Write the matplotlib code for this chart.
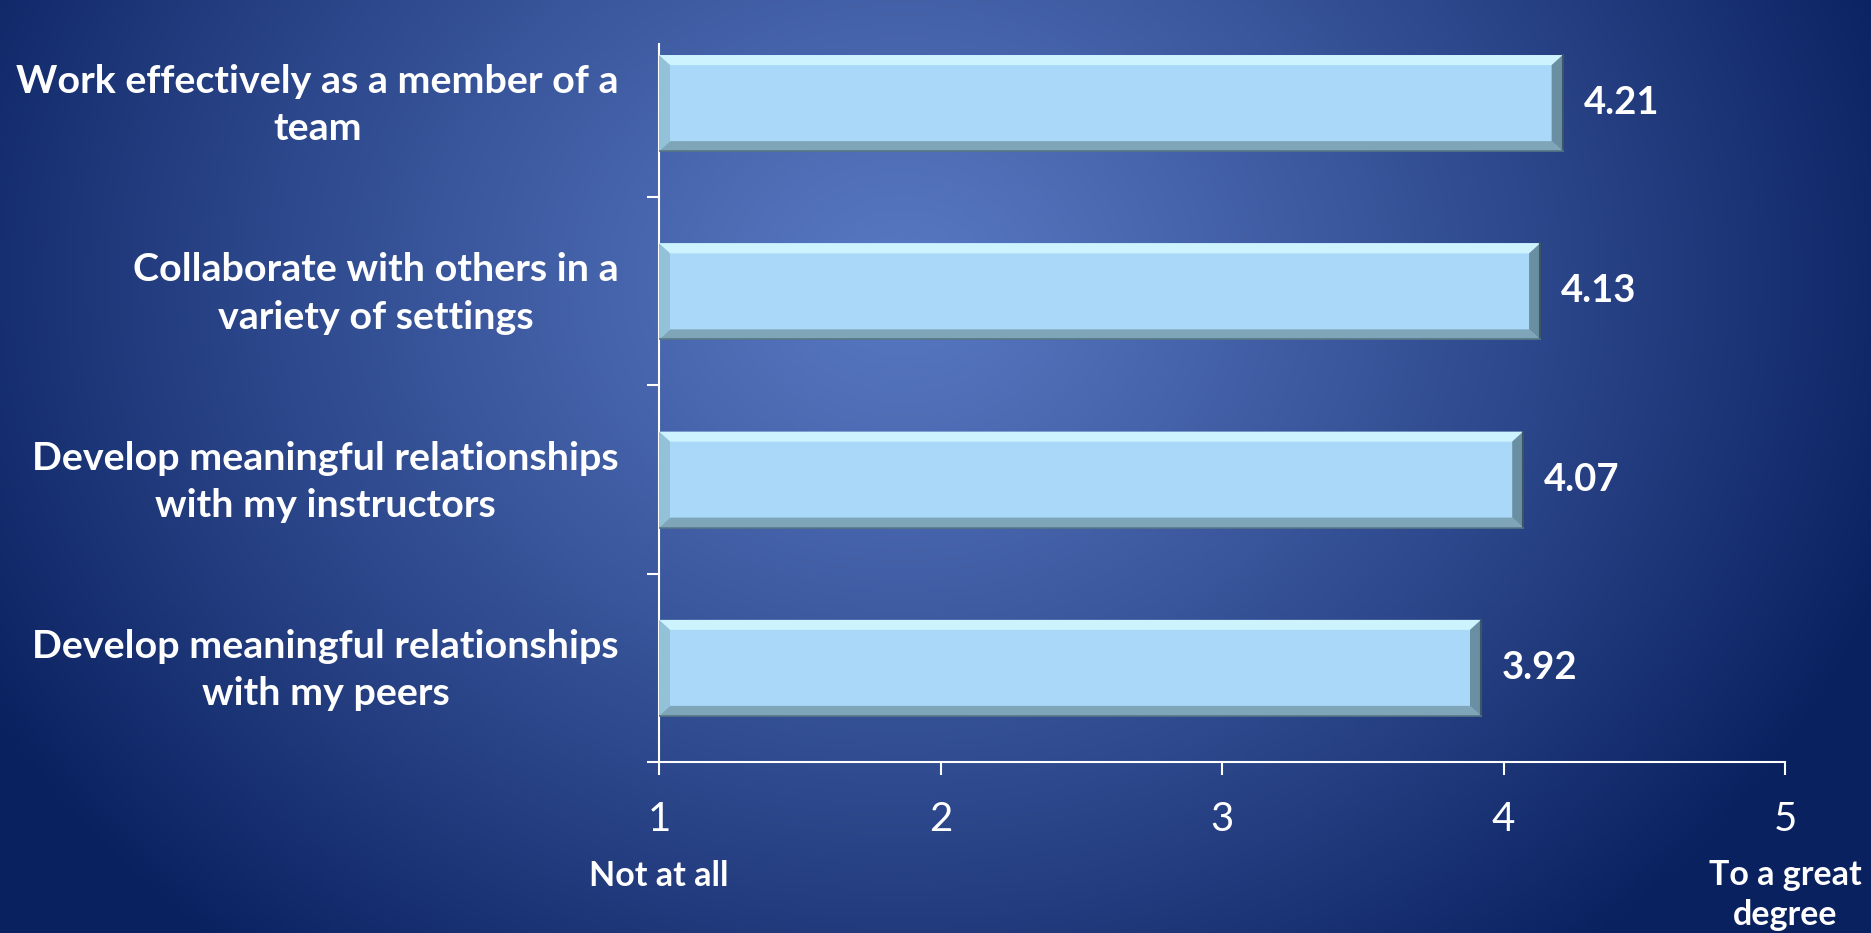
import numpy as np
import matplotlib.pyplot as plt
import matplotlib.transforms as mtransforms
from matplotlib.patches import Polygon

# survey items, top to bottom
categories = [
    "Work effectively as a member of a\nteam",
    "Collaborate with others in a\nvariety of settings",
    "Develop meaningful relationships\nwith my instructors",
    "Develop meaningful relationships\nwith my peers",
]
values = [4.21, 4.13, 4.07, 3.92]
xticks = [1, 2, 3, 4, 5]
scale_low = "Not at all"
scale_high = "To a great\ndegree"

FONT = "Lato"
W, H, DPI = 18.71, 9.33, 100


def background(fig):
    bg = fig.add_axes([0, 0, 1, 1], zorder=-10)
    bg.axis("off")
    ny, nx = 240, 480
    yy, xx = np.mgrid[0:ny, 0:nx]
    px = xx / nx * 1871
    py = yy / ny * 933
    d = np.sqrt(((px - 900) / 1050) ** 2 + ((py - 280) / 880) ** 2)
    t = np.clip(d, 0, 1) ** 1.15
    c0 = np.array([0x58, 0x78, 0xc2]) / 255.0
    c1 = np.array([0x0a, 0x21, 0x60]) / 255.0
    img = c0[None, None, :] * (1 - t[..., None]) + c1[None, None, :] * t[..., None]
    bg.imshow(img, extent=[0, 1, 0, 1], aspect="auto", origin="upper")
    bg.set_xlim(0, 1)
    bg.set_ylim(0, 1)


def bevel(ax, y, left, right, h, bx, by):
    top = y - h / 2
    bot = y + h / 2
    ax.add_patch(Polygon([(left, top), (right, top), (right - bx, top + by), (left + bx, top + by)],
                         closed=True, fc="#cdf3ff", ec="none", zorder=3))
    ax.add_patch(Polygon([(left, bot), (right, bot), (right - bx, bot - by), (left + bx, bot - by)],
                         closed=True, fc="#7fa5b9", ec="none", zorder=3))
    ax.add_patch(Polygon([(left, top), (left + bx, top + by), (left + bx, bot - by), (left, bot)],
                         closed=True, fc="#93c1d8", ec="none", zorder=3))
    ax.add_patch(Polygon([(right, top), (right - bx, top + by), (right - bx, bot - by), (right, bot)],
                         closed=True, fc="#6a8ea2", ec="none", zorder=3))
    ax.plot([right, right], [top, bot], color="#3d5566", lw=1.5, zorder=4)
    ax.plot([left, right], [bot, bot], color="#567585", lw=1.2, zorder=4)


def main():
    fig = plt.figure(figsize=(W, H), dpi=DPI)
    background(fig)

    ax = fig.add_axes([659 / 1871, 1 - 762 / 933, (1785 - 659) / 1871, (762 - 44) / 933])
    ax.patch.set_alpha(0)

    pos = np.arange(len(categories))
    h = 0.51
    ax.barh(pos, [v - xticks[0] for v in values], left=xticks[0], height=h,
            color="#aad8f8", edgecolor="none", zorder=2)

    ax.set_xlim(xticks[0], xticks[-1])
    ax.set_ylim(3.5, -0.314)

    bx = 11 / 282.0
    by = 10 / 188.0
    for p, v in zip(pos, values):
        bevel(ax, p, xticks[0], v, h, bx, by)
        ax.annotate("%.2f" % v, (v, p), xytext=(15, 0), textcoords="offset points",
                    ha="left", va="center", color="white", fontsize=27.5,
                    fontweight="bold", family=FONT)

    for s in ["top", "right"]:
        ax.spines[s].set_visible(False)
    for s in ["left", "bottom"]:
        ax.spines[s].set_color("white")
        ax.spines[s].set_linewidth(1.5)

    # boundaries as major ticks, labels as minor ticks
    ax.set_yticks(pos + 0.5)
    ax.set_yticklabels([])
    ax.set_yticks(pos, minor=True)
    ax.set_yticklabels(categories, minor=True)
    ax.tick_params(axis="y", which="major", length=9, width=1.5, color="white", direction="out")
    ax.tick_params(axis="y", which="minor", length=0, pad=29)
    shift = mtransforms.ScaledTranslation(0, 7 / DPI, fig.dpi_scale_trans)
    for lab in ax.get_yticklabels(minor=True):
        lab.set_color("white")
        lab.set_fontsize(28.4)
        lab.set_fontweight("bold")
        lab.set_family(FONT)
        lab.set_multialignment("center")
        lab.set_linespacing(1.42)
        lab.set_transform(lab.get_transform() + shift)

    ax.set_xticks(xticks)
    ax.set_xticklabels([str(x) for x in xticks])
    ax.tick_params(axis="x", length=9, width=1.5, color="white", pad=19,
                   labelcolor="white", labelsize=29)
    for lab in ax.get_xticklabels():
        lab.set_family(FONT)

    ax.annotate(scale_low, (xticks[0], 0), xycoords=("data", "axes fraction"),
                xytext=(0, -114), textcoords="offset pixels", ha="center", va="center",
                color="white", fontsize=24.5, fontweight="bold", family=FONT)
    ax.annotate(scale_high, (xticks[-1], 0), xycoords=("data", "axes fraction"),
                xytext=(0, -97), textcoords="offset pixels", ha="center", va="top",
                color="white", fontsize=24.5, fontweight="bold", family=FONT,
                linespacing=1.3)

    fig.savefig("out.png", dpi=DPI)


if __name__ == "__main__":
    main()
